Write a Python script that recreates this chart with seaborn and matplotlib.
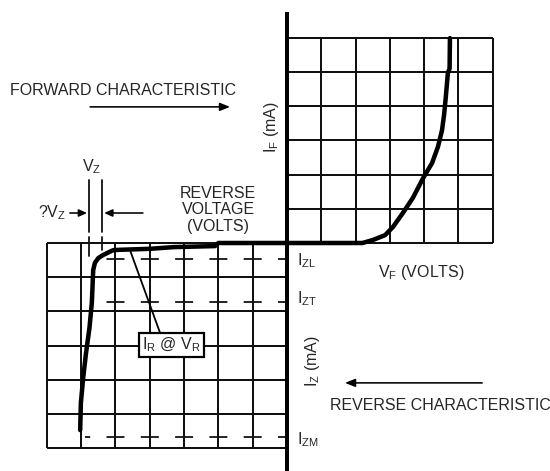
import numpy as np
import pandas as pd
import matplotlib
matplotlib.use("Agg")
import matplotlib.pyplot as plt
import seaborn as sns

# ---- data (grid units: 1 unit = one grid square) ----
forward_v = [0, 2.2, 2.51, 2.86, 3.09, 3.38, 3.67, 3.97, 4.23, 4.40, 4.52, 4.58,
             4.63, 4.69, 4.74, 4.75]
forward_i = [0, 0, 0.09, 0.23, 0.47, 0.88, 1.32, 1.90, 2.34, 2.81, 3.3, 3.75,
             4.27, 4.97, 5.1, 5.99]

reverse_v = [0, -2.0, -2.1, -3.3, -4.0, -4.9, -5.07, -5.36, -5.5, -5.6, -5.65,
             -5.69, -5.76, -5.86, -5.94, -6.01, -6.03]
reverse_i = [0, 0, -0.09, -0.12, -0.17, -0.2, -0.21, -0.35, -0.44, -0.58, -0.79,
             -1.75, -2.49, -3.22, -3.92, -4.68, -5.47]

# reference current levels (I_ZL, I_ZT, I_ZM) and where each dashed line ends
ref_levels = [-0.47, -1.73, -5.67]
ref_labels = [r"$\mathregular{I_{ZL}}$", r"$\mathregular{I_{ZT}}$", r"$\mathregular{I_{ZM}}$"]
ref_ends = [-5.6, -5.69, -5.89]

# grid extents
fwd_cols, fwd_rows = 6, 6
rev_cols, rev_rows = 7, 6

sns.set_theme(style="white")
plt.rcParams["font.family"] = ["Liberation Sans", "DejaVu Sans"]
plt.rcParams["mathtext.fontset"] = "custom"
plt.rcParams["mathtext.rm"] = "Liberation Sans"
plt.rcParams["mathtext.it"] = "Liberation Sans:italic"
plt.rcParams["lines.scale_dashes"] = False

PX = 0.72  # points per pixel at dpi 100
fig = plt.figure(figsize=(5.5, 4.71), dpi=100)
ax = fig.add_axes([0, 0, 1, 1])
ax.set_xlim(-287 / 34.3, 263 / 34.3)
ax.set_ylim(-228 / 34.2, 243 / 34.2)
ax.axis("off")

gc = "#111111"
glw = 2.0 * PX
# forward grid
ax.vlines(np.arange(0, fwd_cols + 1), 0, fwd_rows, color=gc, lw=glw)
ax.hlines(np.arange(0, fwd_rows + 1), 0, fwd_cols, color=gc, lw=glw)
# reverse grid
ax.vlines(np.arange(-rev_cols, 1), -rev_rows, 0, color=gc, lw=glw)
ax.hlines(np.arange(-rev_rows, 1), -rev_cols, 0, color=gc, lw=glw)

# dashed reference levels, dashes centred on grid lines
dash, gap = 18 * PX, 16.3 * PX
for lvl, end in zip(ref_levels, ref_ends):
    ax.plot([0, end], [lvl, lvl], color=gc, lw=1.8 * PX,
            linestyle=(9 * PX, (dash, gap)), solid_capstyle="butt")

# vertical axis
ax.plot([0, 0], [6.75, -6.7], color="black", lw=4 * PX, solid_capstyle="butt")

# curves
df = pd.DataFrame({
    "v": forward_v + reverse_v,
    "i": forward_i + reverse_i,
    "branch": ["forward"] * len(forward_v) + ["reverse"] * len(reverse_v),
})
sns.lineplot(data=df, x="v", y="i", units="branch", estimator=None, sort=False,
             color="black", lw=4.5 * PX, ax=ax, legend=False)
for ln in ax.get_lines()[-2:]:
    ln.set_solid_joinstyle("round")

fs = 11.5
# texts
ax.text(-8.08, 4.47, "FORWARD CHARACTERISTIC", fontsize=fs, ha="left", va="center")
ax.annotate("", xy=(-1.66, 3.98), xytext=(-5.74, 3.98),
            arrowprops=dict(arrowstyle="-|>,head_length=0.5,head_width=0.2",
                            color="black", lw=1.6 * PX, shrinkA=0, shrinkB=0))
ax.text(-0.44, 3.39, r"$\mathregular{I_F}$ (mA)", fontsize=fs, rotation=90,
        ha="center", va="center")

ax.text(-5.71, 2.22, r"$\mathregular{V_Z}$", fontsize=fs, ha="center", va="center")
ax.text(-6.45, 0.877, r"?$\mathregular{V_Z}$", fontsize=fs, ha="right", va="center")
# Vz bracket lines
for xv, lo in [(-5.77, -0.38), (-5.39, -0.2)]:
    ax.plot([xv, xv], [1.84, 0.32], color=gc, lw=1.8 * PX)
    ax.plot([xv, xv], [0.175, lo], color=gc, lw=1.8 * PX)
ax.annotate("", xy=(-5.83, 0.877), xytext=(-6.33, 0.877),
            arrowprops=dict(arrowstyle="-|>,head_length=0.4,head_width=0.18",
                            color="black", lw=1.6 * PX, shrinkA=0, shrinkB=0))
ax.annotate("", xy=(-5.33, 0.877), xytext=(-4.2, 0.877),
            arrowprops=dict(arrowstyle="-|>,head_length=0.4,head_width=0.18",
                            color="black", lw=1.6 * PX, shrinkA=0, shrinkB=0))

ax.text(-2.01, 0.965, "REVERSE\nVOLTAGE\n(VOLTS)", fontsize=fs, ha="center",
        va="center", linespacing=1.1)

# I_R @ V_R box with leader
ax.plot([-4.58, -3.7], [-0.2, -2.63], color="black", lw=1.8 * PX)
ax.text(-3.38, -2.98, r"$\mathregular{I_R}$ @ $\mathregular{V_R}$", fontsize=fs,
        ha="center", va="center",
        bbox=dict(boxstyle="square,pad=0.2", fc="white", ec="black", lw=2.2 * PX))

# reference level labels
for lvl, lab in zip([-0.52, -1.64, -5.76], ref_labels):
    ax.text(0.29, lvl, lab, fontsize=fs, ha="left", va="center")

ax.text(3.91, -0.85, r"$\mathregular{V_F}$ (VOLTS)", fontsize=fs, ha="center", va="center")
ax.text(0.73, -3.45, r"$\mathregular{I_Z}$ (mA)", fontsize=fs, rotation=90,
        ha="center", va="center")
ax.annotate("", xy=(1.69, -4.09), xytext=(5.69, -4.09),
            arrowprops=dict(arrowstyle="-|>,head_length=0.5,head_width=0.2",
                            color="black", lw=1.6 * PX, shrinkA=0, shrinkB=0))
ax.text(1.25, -4.74, "REVERSE CHARACTERISTIC", fontsize=fs, ha="left", va="center")

fig.savefig("out.png", dpi=100)
